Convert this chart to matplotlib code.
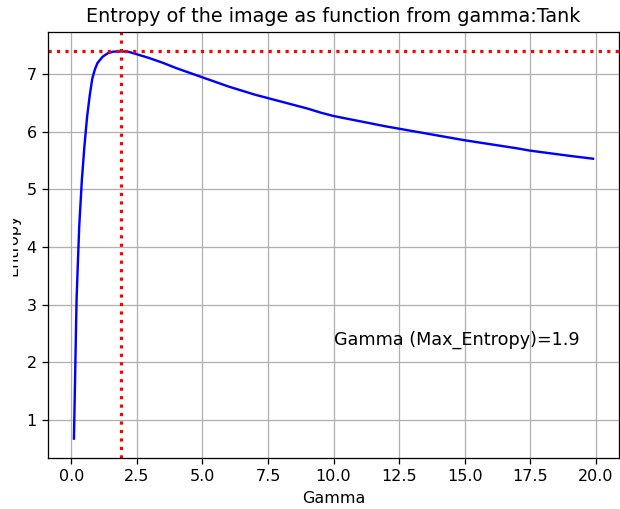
import matplotlib
matplotlib.use("Agg")
import matplotlib.pyplot as plt
from matplotlib.patches import Rectangle

# gamma values and the entropy
gamma = [0.1, 0.2, 0.3, 0.4, 0.5, 0.6, 0.7, 0.8, 0.9, 1.0,
         1.2, 1.4, 1.6, 1.9, 2.2, 2.5, 3.0, 3.5, 4.0, 4.5,
         5.0, 5.5, 6.0, 6.5, 7.0, 7.5, 8.0, 8.5, 9.0, 9.5,
         10.0, 11.0, 12.0, 12.5, 13.0, 14.0, 15.0, 16.0, 17.0, 17.5,
         18.0, 19.0, 19.9]
entropy = [0.68, 3.1, 4.35, 5.15, 5.75, 6.25, 6.62, 6.92, 7.08, 7.19,
           7.30, 7.36, 7.385, 7.39, 7.38, 7.34, 7.27, 7.19, 7.10, 7.02,
           6.94, 6.86, 6.78, 6.71, 6.64, 6.58, 6.52, 6.46, 6.40, 6.33,
           6.27, 6.18, 6.09, 6.05, 6.01, 5.93, 5.85, 5.78, 5.71, 5.67,
           5.64, 5.58, 5.53]

best_gamma = 1.9
max_entropy = 7.39

dpi = 115
fig = plt.figure(figsize=(620 / dpi, 509 / dpi), dpi=dpi)
ax = fig.add_axes([48 / 620, 51 / 509, 571 / 620, 426 / 509])

ax.plot(gamma, entropy, color='b')
ax.axvline(x=best_gamma, color='r', linestyle=':', linewidth=2)
ax.axhline(y=max_entropy, color='r', linestyle=':', linewidth=2)
ax.text(10, 2.3, "Gamma (Max_Entropy)=" + str(best_gamma), fontsize=11)

ax.set_title("Entropy of the image as function from gamma:Tank")
ax.set_xlabel("Gamma")
ax.set_ylabel("Entropy")
ax.grid(True)

# left strip of the original screenshot is blank, hiding most of the y label
fig.patches.append(Rectangle((0, 0), 13 / 620, 1, transform=fig.transFigure,
                             facecolor='white', edgecolor='none', zorder=10))

fig.savefig("out.png", dpi=dpi)
